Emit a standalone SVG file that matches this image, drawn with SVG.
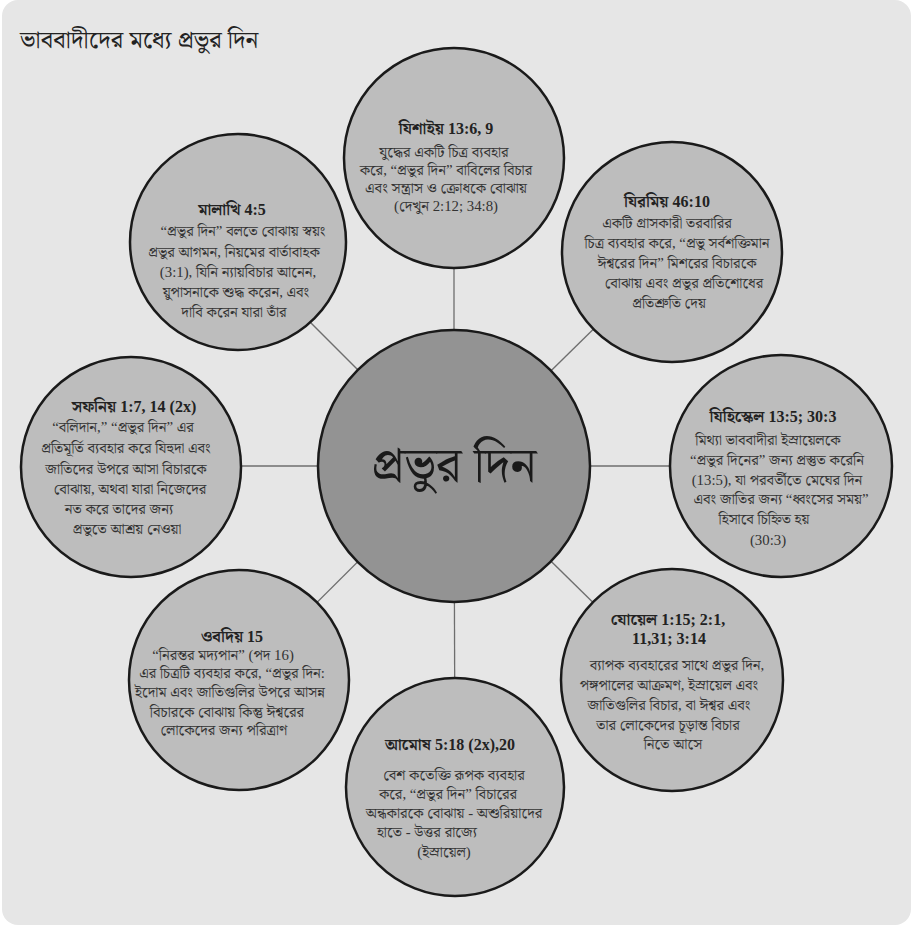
<svg xmlns="http://www.w3.org/2000/svg" width="913" height="927" viewBox="0 0 913 927">
<style>
.bg{fill:#e6e6e6}
.node{fill:#bdbdbd;stroke:#1a1a1a;stroke-width:2.5}
.hub{fill:#939393;stroke:#1a1a1a;stroke-width:2.5}
.conn{stroke:#6e6e6e;stroke-width:1.3;fill:none}
text{font-family:"Liberation Serif","Noto Serif Bengali","Noto Sans Bengali","Lohit Bengali",serif;fill:#222;text-anchor:middle}
.title{font-size:24.5px;text-anchor:start}
.h{font-size:16px;font-weight:bold}
.b{font-size:14.8px;fill:#333}
.hubt{font-size:50px;fill:#1a1a1a}
</style>
<rect class="bg" x="2" y="0" width="909" height="925" rx="16"/>
<text class="title" x="20" y="48">ভাববাদীদের মধ্যে প্রভুর দিন</text>
<g id="connectors">
<line class="conn" x1="454" y1="466" x2="454" y2="158"/>
<line class="conn" x1="454" y1="466" x2="672" y2="252"/>
<line class="conn" x1="454" y1="466" x2="781" y2="466"/>
<line class="conn" x1="454" y1="466" x2="672" y2="680"/>
<line class="conn" x1="454" y1="466" x2="455" y2="787"/>
<line class="conn" x1="454" y1="466" x2="239" y2="680"/>
<line class="conn" x1="454" y1="466" x2="131" y2="466"/>
<line class="conn" x1="454" y1="466" x2="238" y2="250"/>
</g>
<g id="hub">
<circle class="hub" cx="454" cy="466" r="136"/>
<text class="hubt" x="454" y="482">প্রভুর দিন</text>
</g>
<g id="isaiah">
<circle class="node" cx="454" cy="158" r="110"/>
<text class="h" x="446" y="134">যিশাইয় 13:6, 9</text>
<text class="b" x="444" y="157">যুদ্ধের একটি চিত্র ব্যবহার</text>
<text class="b" x="446" y="175">করে, “প্রভুর দিন” বাবিলের বিচার</text>
<text class="b" x="446" y="193">এবং সন্ত্রাস ও ক্রোধকে বোঝায়</text>
<text class="b" x="446" y="211">(দেখুন 2:12; 34:8)</text>
</g>
<g id="malachi">
<circle class="node" cx="238" cy="242" r="108"/>
<text class="h" x="232" y="215">মালাখি 4:5</text>
<text class="b" x="243" y="236">“প্রভুর দিন” বলতে বোঝায় স্বয়ং</text>
<text class="b" x="234" y="257">প্রভুর আগমন, নিয়মের বার্তাবাহক</text>
<text class="b" x="238" y="277">(3:1), যিনি ন্যায়বিচার আনেন,</text>
<text class="b" x="236" y="297">য়ুপাসনাকে শুদ্ধ করেন, এবং</text>
<text class="b" x="234" y="317">দাবি করেন যারা তাঁর</text>
</g>
<g id="jeremiah">
<circle class="node" cx="672" cy="252" r="110"/>
<text class="h" x="667" y="207">যিরমিয় 46:10</text>
<text class="b" x="667" y="228">একটি গ্রাসকারী তরবারির</text>
<text class="b" x="677" y="248">চিত্র ব্যবহার করে, “প্রভু সর্বশক্তিমান</text>
<text class="b" x="677" y="268">ঈশ্বরের দিন” মিশরের বিচারকে</text>
<text class="b" x="684" y="288">বোঝায় এবং প্রভুর প্রতিশোধের</text>
<text class="b" x="669" y="308">প্রতিশ্রুতি দেয়</text>
</g>
<g id="zephaniah">
<circle class="node" cx="131" cy="467" r="110"/>
<text class="h" x="134" y="412">সফনিয় 1:7, 14 (2x)</text>
<text class="b" x="123" y="432">“বলিদান,” “প্রভুর দিন” এর</text>
<text class="b" x="126" y="453">প্রতিমূর্তি ব্যবহার করে যিহুদা এবং</text>
<text class="b" x="126" y="474">জাতিদের উপরে আসা বিচারকে</text>
<text class="b" x="130" y="494">বোঝায়, অথবা যারা নিজেদের</text>
<text class="b" x="119" y="514">নত করে তাদের জন্য</text>
<text class="b" x="127" y="534">প্রভুতে আশ্রয় নেওয়া</text>
</g>
<g id="ezekiel">
<circle class="node" cx="781" cy="466" r="111"/>
<text class="h" x="773" y="422">যিহিস্কেল 13:5; 30:3</text>
<text class="b" x="768" y="445">মিথ্যা ভাববাদীরা ইস্রায়েলকে</text>
<text class="b" x="777" y="465">“প্রভুর দিনের” জন্য প্রস্তুত করেনি</text>
<text class="b" x="777" y="485">(13:5), যা পরবর্তীতে মেঘের দিন</text>
<text class="b" x="781" y="504">এবং জাতির জন্য “ধ্বংসের সময়”</text>
<text class="b" x="764" y="524">হিসাবে চিহ্নিত হয়</text>
<text class="b" x="768" y="545">(30:3)</text>
</g>
<g id="joel">
<circle class="node" cx="672" cy="680" r="111"/>
<text class="h" x="668" y="625">যোয়েল 1:15; 2:1,</text>
<text class="h" x="669" y="644">11,31; 3:14</text>
<text class="b" x="677" y="670">ব্যাপক ব্যবহারের সাথে প্রভুর দিন,</text>
<text class="b" x="669" y="690">পঙ্গপালের আক্রমণ, ইস্রায়েল এবং</text>
<text class="b" x="669" y="710">জাতিগুলির বিচার, বা ঈশ্বর এবং</text>
<text class="b" x="668" y="730">তার লোকেদের চূড়ান্ত বিচার</text>
<text class="b" x="673" y="749">নিতে আসে</text>
</g>
<g id="amos">
<circle class="node" cx="455" cy="787" r="109"/>
<text class="h" x="450" y="750">আমোষ 5:18 (2x),20</text>
<text class="b" x="454" y="780">বেশ কতেক্তি রূপক ব্যবহার</text>
<text class="b" x="448" y="799">করে, “প্রভুর দিন” বিচারের</text>
<text class="b" x="454" y="818">অন্ধকারকে বোঝায় - অশুরিয়াদের</text>
<text class="b" x="427" y="837">হাতে - উত্তর রাজ্যে</text>
<text class="b" x="444" y="857">(ইস্রায়েল)</text>
</g>
<g id="obadiah">
<circle class="node" cx="239" cy="680" r="110"/>
<text class="h" x="232" y="642">ওবদিয় 15</text>
<text class="b" x="223" y="660">“নিরন্তর মদ্যপান” (পদ 16)</text>
<text class="b" x="232" y="678">এর চিত্রটি ব্যবহার করে, “প্রভুর দিন:</text>
<text class="b" x="230" y="697">ইদোম এবং জাতিগুলির উপরে আসন্ন</text>
<text class="b" x="227" y="717">বিচারকে বোঝায় কিন্তু ঈশ্বরের</text>
<text class="b" x="224" y="735">লোকেদের জন্য পরিত্রাণ</text>
</g>
</svg>
